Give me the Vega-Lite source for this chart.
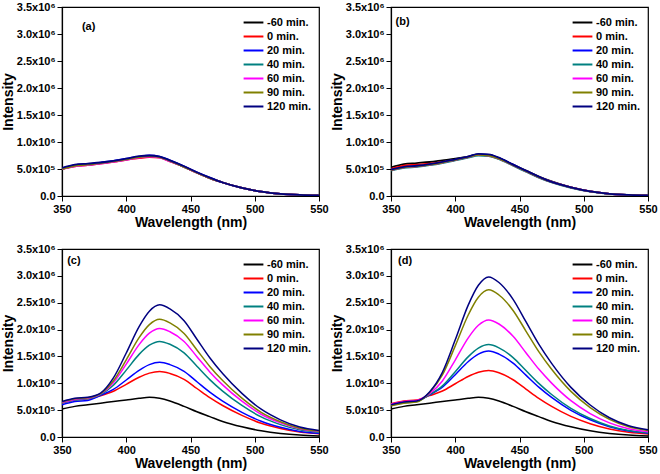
{
"$schema": "https://vega.github.io/schema/vega-lite/v6.json",
"padding": {"left": 0, "top": 0, "right": 0, "bottom": 2},
"config": {
  "font": "Liberation Sans",
  "axis": {"labelFont": "Liberation Sans", "labelFontWeight": "bold", "labelFontSize": 11, "labelColor": "#000", "titleFont": "Liberation Sans", "titleFontWeight": "bold", "titleFontSize": 14, "titleColor": "#000", "domainColor": "#000", "domainWidth": 1.2, "tickColor": "#000", "tickWidth": 1, "grid": false, "labelFlush": false, "labelPadding": 2, "labelOverlap": false},
  "axisY": {"titlePadding": 1},
  "axisX": {"titlePadding": 1},
  "view": {"stroke": "#000", "strokeWidth": 1.2},
  "legend": {"orient": "top-right", "offset": 7, "title": null, "symbolType": "M-1.4,0H1.4", "symbolSize": 200, "symbolStrokeWidth": 2, "labelFont": "Liberation Sans", "labelFontWeight": "bold", "labelFontSize": 11, "labelColor": "#000", "rowPadding": 0, "labelOffset": 5, "padding": 0}
},
"datasets": {
"a": [
{"s":"-60 min.","w":350,"v":0.50},{"s":"-60 min.","w":360,"v":0.56},{"s":"-60 min.","w":370,"v":0.58},{"s":"-60 min.","w":380,"v":0.61},{"s":"-60 min.","w":390,"v":0.64},{"s":"-60 min.","w":400,"v":0.68},{"s":"-60 min.","w":410,"v":0.72},{"s":"-60 min.","w":418,"v":0.74},{"s":"-60 min.","w":426,"v":0.72},{"s":"-60 min.","w":434,"v":0.65},{"s":"-60 min.","w":445,"v":0.54},{"s":"-60 min.","w":455,"v":0.43},{"s":"-60 min.","w":465,"v":0.33},{"s":"-60 min.","w":475,"v":0.25},{"s":"-60 min.","w":490,"v":0.15},{"s":"-60 min.","w":505,"v":0.08},{"s":"-60 min.","w":520,"v":0.04},{"s":"-60 min.","w":535,"v":0.02},{"s":"-60 min.","w":550,"v":0.01},
{"s":"0 min.","w":350,"v":0.50},{"s":"0 min.","w":360,"v":0.55},{"s":"0 min.","w":370,"v":0.57},{"s":"0 min.","w":380,"v":0.60},{"s":"0 min.","w":390,"v":0.63},{"s":"0 min.","w":400,"v":0.67},{"s":"0 min.","w":410,"v":0.70},{"s":"0 min.","w":418,"v":0.72},{"s":"0 min.","w":426,"v":0.71},{"s":"0 min.","w":434,"v":0.64},{"s":"0 min.","w":445,"v":0.54},{"s":"0 min.","w":455,"v":0.43},{"s":"0 min.","w":465,"v":0.33},{"s":"0 min.","w":475,"v":0.25},{"s":"0 min.","w":490,"v":0.15},{"s":"0 min.","w":505,"v":0.08},{"s":"0 min.","w":520,"v":0.04},{"s":"0 min.","w":535,"v":0.02},{"s":"0 min.","w":550,"v":0.01},
{"s":"20 min.","w":350,"v":0.51},{"s":"20 min.","w":360,"v":0.57},{"s":"20 min.","w":370,"v":0.59},{"s":"20 min.","w":380,"v":0.62},{"s":"20 min.","w":390,"v":0.65},{"s":"20 min.","w":400,"v":0.69},{"s":"20 min.","w":410,"v":0.73},{"s":"20 min.","w":418,"v":0.75},{"s":"20 min.","w":426,"v":0.73},{"s":"20 min.","w":434,"v":0.66},{"s":"20 min.","w":445,"v":0.55},{"s":"20 min.","w":455,"v":0.44},{"s":"20 min.","w":465,"v":0.34},{"s":"20 min.","w":475,"v":0.25},{"s":"20 min.","w":490,"v":0.15},{"s":"20 min.","w":505,"v":0.08},{"s":"20 min.","w":520,"v":0.04},{"s":"20 min.","w":535,"v":0.02},{"s":"20 min.","w":550,"v":0.01},
{"s":"40 min.","w":350,"v":0.50},{"s":"40 min.","w":360,"v":0.56},{"s":"40 min.","w":370,"v":0.58},{"s":"40 min.","w":380,"v":0.61},{"s":"40 min.","w":390,"v":0.64},{"s":"40 min.","w":400,"v":0.68},{"s":"40 min.","w":410,"v":0.72},{"s":"40 min.","w":418,"v":0.74},{"s":"40 min.","w":426,"v":0.72},{"s":"40 min.","w":434,"v":0.65},{"s":"40 min.","w":445,"v":0.54},{"s":"40 min.","w":455,"v":0.43},{"s":"40 min.","w":465,"v":0.33},{"s":"40 min.","w":475,"v":0.25},{"s":"40 min.","w":490,"v":0.15},{"s":"40 min.","w":505,"v":0.08},{"s":"40 min.","w":520,"v":0.04},{"s":"40 min.","w":535,"v":0.02},{"s":"40 min.","w":550,"v":0.01},
{"s":"60 min.","w":350,"v":0.50},{"s":"60 min.","w":360,"v":0.55},{"s":"60 min.","w":370,"v":0.57},{"s":"60 min.","w":380,"v":0.60},{"s":"60 min.","w":390,"v":0.63},{"s":"60 min.","w":400,"v":0.67},{"s":"60 min.","w":410,"v":0.71},{"s":"60 min.","w":418,"v":0.73},{"s":"60 min.","w":426,"v":0.71},{"s":"60 min.","w":434,"v":0.64},{"s":"60 min.","w":445,"v":0.54},{"s":"60 min.","w":455,"v":0.43},{"s":"60 min.","w":465,"v":0.33},{"s":"60 min.","w":475,"v":0.25},{"s":"60 min.","w":490,"v":0.15},{"s":"60 min.","w":505,"v":0.08},{"s":"60 min.","w":520,"v":0.04},{"s":"60 min.","w":535,"v":0.02},{"s":"60 min.","w":550,"v":0.01},
{"s":"90 min.","w":350,"v":0.50},{"s":"90 min.","w":360,"v":0.56},{"s":"90 min.","w":370,"v":0.58},{"s":"90 min.","w":380,"v":0.61},{"s":"90 min.","w":390,"v":0.64},{"s":"90 min.","w":400,"v":0.68},{"s":"90 min.","w":410,"v":0.72},{"s":"90 min.","w":418,"v":0.74},{"s":"90 min.","w":426,"v":0.72},{"s":"90 min.","w":434,"v":0.65},{"s":"90 min.","w":445,"v":0.54},{"s":"90 min.","w":455,"v":0.43},{"s":"90 min.","w":465,"v":0.33},{"s":"90 min.","w":475,"v":0.25},{"s":"90 min.","w":490,"v":0.15},{"s":"90 min.","w":505,"v":0.08},{"s":"90 min.","w":520,"v":0.04},{"s":"90 min.","w":535,"v":0.02},{"s":"90 min.","w":550,"v":0.01},
{"s":"120 min.","w":350,"v":0.52},{"s":"120 min.","w":360,"v":0.58},{"s":"120 min.","w":370,"v":0.60},{"s":"120 min.","w":380,"v":0.62},{"s":"120 min.","w":390,"v":0.65},{"s":"120 min.","w":400,"v":0.69},{"s":"120 min.","w":410,"v":0.74},{"s":"120 min.","w":418,"v":0.75},{"s":"120 min.","w":426,"v":0.73},{"s":"120 min.","w":434,"v":0.66},{"s":"120 min.","w":445,"v":0.55},{"s":"120 min.","w":455,"v":0.44},{"s":"120 min.","w":465,"v":0.34},{"s":"120 min.","w":475,"v":0.25},{"s":"120 min.","w":490,"v":0.15},{"s":"120 min.","w":505,"v":0.08},{"s":"120 min.","w":520,"v":0.04},{"s":"120 min.","w":535,"v":0.02},{"s":"120 min.","w":550,"v":0.01}
],
"b": [
{"s":"-60 min.","w":350,"v":0.53},{"s":"-60 min.","w":360,"v":0.59},{"s":"-60 min.","w":370,"v":0.61},{"s":"-60 min.","w":380,"v":0.63},{"s":"-60 min.","w":390,"v":0.66},{"s":"-60 min.","w":400,"v":0.69},{"s":"-60 min.","w":410,"v":0.73},{"s":"-60 min.","w":418,"v":0.77},{"s":"-60 min.","w":426,"v":0.76},{"s":"-60 min.","w":434,"v":0.70},{"s":"-60 min.","w":445,"v":0.58},{"s":"-60 min.","w":455,"v":0.47},{"s":"-60 min.","w":465,"v":0.36},{"s":"-60 min.","w":475,"v":0.27},{"s":"-60 min.","w":490,"v":0.16},{"s":"-60 min.","w":505,"v":0.085},{"s":"-60 min.","w":520,"v":0.04},{"s":"-60 min.","w":535,"v":0.02},{"s":"-60 min.","w":550,"v":0.01},
{"s":"0 min.","w":350,"v":0.50},{"s":"0 min.","w":360,"v":0.56},{"s":"0 min.","w":370,"v":0.58},{"s":"0 min.","w":380,"v":0.60},{"s":"0 min.","w":390,"v":0.63},{"s":"0 min.","w":400,"v":0.67},{"s":"0 min.","w":410,"v":0.72},{"s":"0 min.","w":418,"v":0.76},{"s":"0 min.","w":426,"v":0.75},{"s":"0 min.","w":434,"v":0.69},{"s":"0 min.","w":445,"v":0.57},{"s":"0 min.","w":455,"v":0.46},{"s":"0 min.","w":465,"v":0.35},{"s":"0 min.","w":475,"v":0.26},{"s":"0 min.","w":490,"v":0.16},{"s":"0 min.","w":505,"v":0.085},{"s":"0 min.","w":520,"v":0.04},{"s":"0 min.","w":535,"v":0.02},{"s":"0 min.","w":550,"v":0.01},
{"s":"20 min.","w":350,"v":0.48},{"s":"20 min.","w":360,"v":0.53},{"s":"20 min.","w":370,"v":0.55},{"s":"20 min.","w":380,"v":0.58},{"s":"20 min.","w":390,"v":0.62},{"s":"20 min.","w":400,"v":0.67},{"s":"20 min.","w":410,"v":0.72},{"s":"20 min.","w":418,"v":0.77},{"s":"20 min.","w":426,"v":0.76},{"s":"20 min.","w":434,"v":0.70},{"s":"20 min.","w":445,"v":0.58},{"s":"20 min.","w":455,"v":0.46},{"s":"20 min.","w":465,"v":0.35},{"s":"20 min.","w":475,"v":0.26},{"s":"20 min.","w":490,"v":0.16},{"s":"20 min.","w":505,"v":0.085},{"s":"20 min.","w":520,"v":0.04},{"s":"20 min.","w":535,"v":0.02},{"s":"20 min.","w":550,"v":0.01},
{"s":"40 min.","w":350,"v":0.47},{"s":"40 min.","w":360,"v":0.52},{"s":"40 min.","w":370,"v":0.54},{"s":"40 min.","w":380,"v":0.57},{"s":"40 min.","w":390,"v":0.61},{"s":"40 min.","w":400,"v":0.66},{"s":"40 min.","w":410,"v":0.71},{"s":"40 min.","w":418,"v":0.75},{"s":"40 min.","w":426,"v":0.74},{"s":"40 min.","w":434,"v":0.68},{"s":"40 min.","w":445,"v":0.56},{"s":"40 min.","w":455,"v":0.45},{"s":"40 min.","w":465,"v":0.34},{"s":"40 min.","w":475,"v":0.25},{"s":"40 min.","w":490,"v":0.15},{"s":"40 min.","w":505,"v":0.08},{"s":"40 min.","w":520,"v":0.04},{"s":"40 min.","w":535,"v":0.02},{"s":"40 min.","w":550,"v":0.01},
{"s":"60 min.","w":350,"v":0.48},{"s":"60 min.","w":360,"v":0.53},{"s":"60 min.","w":370,"v":0.55},{"s":"60 min.","w":380,"v":0.58},{"s":"60 min.","w":390,"v":0.62},{"s":"60 min.","w":400,"v":0.67},{"s":"60 min.","w":410,"v":0.72},{"s":"60 min.","w":418,"v":0.76},{"s":"60 min.","w":426,"v":0.75},{"s":"60 min.","w":434,"v":0.69},{"s":"60 min.","w":445,"v":0.57},{"s":"60 min.","w":455,"v":0.46},{"s":"60 min.","w":465,"v":0.35},{"s":"60 min.","w":475,"v":0.26},{"s":"60 min.","w":490,"v":0.16},{"s":"60 min.","w":505,"v":0.085},{"s":"60 min.","w":520,"v":0.04},{"s":"60 min.","w":535,"v":0.02},{"s":"60 min.","w":550,"v":0.01},
{"s":"90 min.","w":350,"v":0.48},{"s":"90 min.","w":360,"v":0.53},{"s":"90 min.","w":370,"v":0.55},{"s":"90 min.","w":380,"v":0.58},{"s":"90 min.","w":390,"v":0.62},{"s":"90 min.","w":400,"v":0.67},{"s":"90 min.","w":410,"v":0.72},{"s":"90 min.","w":418,"v":0.76},{"s":"90 min.","w":426,"v":0.75},{"s":"90 min.","w":434,"v":0.69},{"s":"90 min.","w":445,"v":0.57},{"s":"90 min.","w":455,"v":0.46},{"s":"90 min.","w":465,"v":0.35},{"s":"90 min.","w":475,"v":0.26},{"s":"90 min.","w":490,"v":0.16},{"s":"90 min.","w":505,"v":0.085},{"s":"90 min.","w":520,"v":0.04},{"s":"90 min.","w":535,"v":0.02},{"s":"90 min.","w":550,"v":0.01},
{"s":"120 min.","w":350,"v":0.49},{"s":"120 min.","w":360,"v":0.54},{"s":"120 min.","w":370,"v":0.56},{"s":"120 min.","w":380,"v":0.59},{"s":"120 min.","w":390,"v":0.63},{"s":"120 min.","w":400,"v":0.68},{"s":"120 min.","w":410,"v":0.73},{"s":"120 min.","w":418,"v":0.78},{"s":"120 min.","w":426,"v":0.77},{"s":"120 min.","w":434,"v":0.71},{"s":"120 min.","w":445,"v":0.58},{"s":"120 min.","w":455,"v":0.47},{"s":"120 min.","w":465,"v":0.36},{"s":"120 min.","w":475,"v":0.26},{"s":"120 min.","w":490,"v":0.16},{"s":"120 min.","w":505,"v":0.085},{"s":"120 min.","w":520,"v":0.04},{"s":"120 min.","w":535,"v":0.02},{"s":"120 min.","w":550,"v":0.01}
],
"c": [
{"s":"-60 min.","w":350,"v":0.52},{"s":"-60 min.","w":360,"v":0.57},{"s":"-60 min.","w":370,"v":0.60},{"s":"-60 min.","w":380,"v":0.63},{"s":"-60 min.","w":390,"v":0.66},{"s":"-60 min.","w":400,"v":0.69},{"s":"-60 min.","w":410,"v":0.72},{"s":"-60 min.","w":418,"v":0.74},{"s":"-60 min.","w":426,"v":0.72},{"s":"-60 min.","w":434,"v":0.67},{"s":"-60 min.","w":445,"v":0.57},{"s":"-60 min.","w":455,"v":0.47},{"s":"-60 min.","w":465,"v":0.38},{"s":"-60 min.","w":475,"v":0.29},{"s":"-60 min.","w":490,"v":0.19},{"s":"-60 min.","w":505,"v":0.115},{"s":"-60 min.","w":520,"v":0.065},{"s":"-60 min.","w":535,"v":0.035},{"s":"-60 min.","w":550,"v":0.02},
{"s":"0 min.","w":350,"v":0.63},{"s":"0 min.","w":360,"v":0.69},{"s":"0 min.","w":370,"v":0.71},{"s":"0 min.","w":380,"v":0.769},{"s":"0 min.","w":390,"v":0.852},{"s":"0 min.","w":400,"v":0.981},{"s":"0 min.","w":410,"v":1.112},{"s":"0 min.","w":418,"v":1.189},{"s":"0 min.","w":426,"v":1.22},{"s":"0 min.","w":434,"v":1.183},{"s":"0 min.","w":445,"v":1.074},{"s":"0 min.","w":455,"v":0.903},{"s":"0 min.","w":465,"v":0.732},{"s":"0 min.","w":475,"v":0.586},{"s":"0 min.","w":490,"v":0.403},{"s":"0 min.","w":505,"v":0.256},{"s":"0 min.","w":520,"v":0.159},{"s":"0 min.","w":535,"v":0.092},{"s":"0 min.","w":550,"v":0.061},
{"s":"20 min.","w":350,"v":0.60},{"s":"20 min.","w":360,"v":0.66},{"s":"20 min.","w":370,"v":0.68},{"s":"20 min.","w":380,"v":0.776},{"s":"20 min.","w":390,"v":0.886},{"s":"20 min.","w":400,"v":1.061},{"s":"20 min.","w":410,"v":1.241},{"s":"20 min.","w":418,"v":1.347},{"s":"20 min.","w":426,"v":1.39},{"s":"20 min.","w":434,"v":1.348},{"s":"20 min.","w":445,"v":1.223},{"s":"20 min.","w":455,"v":1.029},{"s":"20 min.","w":465,"v":0.834},{"s":"20 min.","w":475,"v":0.667},{"s":"20 min.","w":490,"v":0.459},{"s":"20 min.","w":505,"v":0.292},{"s":"20 min.","w":520,"v":0.181},{"s":"20 min.","w":535,"v":0.104},{"s":"20 min.","w":550,"v":0.07},
{"s":"40 min.","w":350,"v":0.63},{"s":"40 min.","w":360,"v":0.69},{"s":"40 min.","w":370,"v":0.71},{"s":"40 min.","w":380,"v":0.791},{"s":"40 min.","w":390,"v":0.964},{"s":"40 min.","w":400,"v":1.245},{"s":"40 min.","w":410,"v":1.538},{"s":"40 min.","w":418,"v":1.709},{"s":"40 min.","w":426,"v":1.78},{"s":"40 min.","w":434,"v":1.727},{"s":"40 min.","w":445,"v":1.566},{"s":"40 min.","w":455,"v":1.317},{"s":"40 min.","w":465,"v":1.068},{"s":"40 min.","w":475,"v":0.854},{"s":"40 min.","w":490,"v":0.587},{"s":"40 min.","w":505,"v":0.374},{"s":"40 min.","w":520,"v":0.231},{"s":"40 min.","w":535,"v":0.134},{"s":"40 min.","w":550,"v":0.089},
{"s":"60 min.","w":350,"v":0.64},{"s":"60 min.","w":360,"v":0.70},{"s":"60 min.","w":370,"v":0.72},{"s":"60 min.","w":380,"v":0.801},{"s":"60 min.","w":390,"v":1.012},{"s":"60 min.","w":400,"v":1.357},{"s":"60 min.","w":410,"v":1.72},{"s":"60 min.","w":418,"v":1.933},{"s":"60 min.","w":426,"v":2.02},{"s":"60 min.","w":434,"v":1.959},{"s":"60 min.","w":445,"v":1.778},{"s":"60 min.","w":455,"v":1.495},{"s":"60 min.","w":465,"v":1.212},{"s":"60 min.","w":475,"v":0.97},{"s":"60 min.","w":490,"v":0.667},{"s":"60 min.","w":505,"v":0.424},{"s":"60 min.","w":520,"v":0.263},{"s":"60 min.","w":535,"v":0.152},{"s":"60 min.","w":550,"v":0.101},
{"s":"90 min.","w":350,"v":0.65},{"s":"90 min.","w":360,"v":0.71},{"s":"90 min.","w":370,"v":0.73},{"s":"90 min.","w":380,"v":0.808},{"s":"90 min.","w":390,"v":1.046},{"s":"90 min.","w":400,"v":1.437},{"s":"90 min.","w":410,"v":1.849},{"s":"90 min.","w":418,"v":2.091},{"s":"90 min.","w":426,"v":2.19},{"s":"90 min.","w":434,"v":2.124},{"s":"90 min.","w":445,"v":1.927},{"s":"90 min.","w":455,"v":1.621},{"s":"90 min.","w":465,"v":1.314},{"s":"90 min.","w":475,"v":1.051},{"s":"90 min.","w":490,"v":0.723},{"s":"90 min.","w":505,"v":0.46},{"s":"90 min.","w":520,"v":0.285},{"s":"90 min.","w":535,"v":0.164},{"s":"90 min.","w":550,"v":0.11},
{"s":"120 min.","w":350,"v":0.66},{"s":"120 min.","w":360,"v":0.72},{"s":"120 min.","w":370,"v":0.74},{"s":"120 min.","w":380,"v":0.818},{"s":"120 min.","w":390,"v":1.10},{"s":"120 min.","w":400,"v":1.564},{"s":"120 min.","w":410,"v":2.055},{"s":"120 min.","w":418,"v":2.342},{"s":"120 min.","w":426,"v":2.46},{"s":"120 min.","w":434,"v":2.386},{"s":"120 min.","w":445,"v":2.165},{"s":"120 min.","w":455,"v":1.82},{"s":"120 min.","w":465,"v":1.476},{"s":"120 min.","w":475,"v":1.181},{"s":"120 min.","w":490,"v":0.812},{"s":"120 min.","w":505,"v":0.517},{"s":"120 min.","w":520,"v":0.32},{"s":"120 min.","w":535,"v":0.185},{"s":"120 min.","w":550,"v":0.123}
],
"d": [
{"s":"-60 min.","w":350,"v":0.52},{"s":"-60 min.","w":360,"v":0.57},{"s":"-60 min.","w":370,"v":0.60},{"s":"-60 min.","w":380,"v":0.63},{"s":"-60 min.","w":390,"v":0.66},{"s":"-60 min.","w":400,"v":0.69},{"s":"-60 min.","w":410,"v":0.72},{"s":"-60 min.","w":418,"v":0.74},{"s":"-60 min.","w":426,"v":0.72},{"s":"-60 min.","w":434,"v":0.67},{"s":"-60 min.","w":445,"v":0.57},{"s":"-60 min.","w":455,"v":0.47},{"s":"-60 min.","w":465,"v":0.38},{"s":"-60 min.","w":475,"v":0.29},{"s":"-60 min.","w":490,"v":0.19},{"s":"-60 min.","w":505,"v":0.115},{"s":"-60 min.","w":520,"v":0.065},{"s":"-60 min.","w":535,"v":0.035},{"s":"-60 min.","w":550,"v":0.02},
{"s":"0 min.","w":350,"v":0.62},{"s":"0 min.","w":360,"v":0.67},{"s":"0 min.","w":370,"v":0.69},{"s":"0 min.","w":380,"v":0.77},{"s":"0 min.","w":390,"v":0.856},{"s":"0 min.","w":400,"v":0.991},{"s":"0 min.","w":410,"v":1.127},{"s":"0 min.","w":418,"v":1.207},{"s":"0 min.","w":426,"v":1.24},{"s":"0 min.","w":434,"v":1.197},{"s":"0 min.","w":445,"v":1.066},{"s":"0 min.","w":455,"v":0.893},{"s":"0 min.","w":465,"v":0.719},{"s":"0 min.","w":475,"v":0.57},{"s":"0 min.","w":490,"v":0.384},{"s":"0 min.","w":505,"v":0.248},{"s":"0 min.","w":520,"v":0.149},{"s":"0 min.","w":535,"v":0.087},{"s":"0 min.","w":550,"v":0.056},
{"s":"20 min.","w":350,"v":0.60},{"s":"20 min.","w":360,"v":0.65},{"s":"20 min.","w":370,"v":0.67},{"s":"20 min.","w":380,"v":0.784},{"s":"20 min.","w":390,"v":0.928},{"s":"20 min.","w":400,"v":1.16},{"s":"20 min.","w":410,"v":1.401},{"s":"20 min.","w":418,"v":1.542},{"s":"20 min.","w":426,"v":1.60},{"s":"20 min.","w":434,"v":1.544},{"s":"20 min.","w":445,"v":1.376},{"s":"20 min.","w":455,"v":1.152},{"s":"20 min.","w":465,"v":0.928},{"s":"20 min.","w":475,"v":0.736},{"s":"20 min.","w":490,"v":0.496},{"s":"20 min.","w":505,"v":0.32},{"s":"20 min.","w":520,"v":0.192},{"s":"20 min.","w":535,"v":0.112},{"s":"20 min.","w":550,"v":0.072},
{"s":"40 min.","w":350,"v":0.59},{"s":"40 min.","w":360,"v":0.64},{"s":"40 min.","w":370,"v":0.66},{"s":"40 min.","w":380,"v":0.789},{"s":"40 min.","w":390,"v":0.952},{"s":"40 min.","w":400,"v":1.216},{"s":"40 min.","w":410,"v":1.492},{"s":"40 min.","w":418,"v":1.654},{"s":"40 min.","w":426,"v":1.72},{"s":"40 min.","w":434,"v":1.66},{"s":"40 min.","w":445,"v":1.479},{"s":"40 min.","w":455,"v":1.238},{"s":"40 min.","w":465,"v":0.998},{"s":"40 min.","w":475,"v":0.791},{"s":"40 min.","w":490,"v":0.533},{"s":"40 min.","w":505,"v":0.344},{"s":"40 min.","w":520,"v":0.206},{"s":"40 min.","w":535,"v":0.12},{"s":"40 min.","w":550,"v":0.077},
{"s":"60 min.","w":350,"v":0.61},{"s":"60 min.","w":360,"v":0.66},{"s":"60 min.","w":370,"v":0.68},{"s":"60 min.","w":380,"v":0.807},{"s":"60 min.","w":390,"v":1.044},{"s":"60 min.","w":400,"v":1.433},{"s":"60 min.","w":410,"v":1.842},{"s":"60 min.","w":418,"v":2.081},{"s":"60 min.","w":426,"v":2.18},{"s":"60 min.","w":434,"v":2.104},{"s":"60 min.","w":445,"v":1.875},{"s":"60 min.","w":455,"v":1.57},{"s":"60 min.","w":465,"v":1.264},{"s":"60 min.","w":475,"v":1.003},{"s":"60 min.","w":490,"v":0.676},{"s":"60 min.","w":505,"v":0.436},{"s":"60 min.","w":520,"v":0.262},{"s":"60 min.","w":535,"v":0.153},{"s":"60 min.","w":550,"v":0.098},
{"s":"90 min.","w":350,"v":0.58},{"s":"90 min.","w":360,"v":0.63},{"s":"90 min.","w":370,"v":0.65},{"s":"90 min.","w":380,"v":0.83},{"s":"90 min.","w":390,"v":1.156},{"s":"90 min.","w":400,"v":1.696},{"s":"90 min.","w":410,"v":2.267},{"s":"90 min.","w":418,"v":2.602},{"s":"90 min.","w":426,"v":2.74},{"s":"90 min.","w":434,"v":2.644},{"s":"90 min.","w":445,"v":2.356},{"s":"90 min.","w":455,"v":1.973},{"s":"90 min.","w":465,"v":1.589},{"s":"90 min.","w":475,"v":1.26},{"s":"90 min.","w":490,"v":0.849},{"s":"90 min.","w":505,"v":0.548},{"s":"90 min.","w":520,"v":0.329},{"s":"90 min.","w":535,"v":0.192},{"s":"90 min.","w":550,"v":0.123},
{"s":"120 min.","w":350,"v":0.60},{"s":"120 min.","w":360,"v":0.65},{"s":"120 min.","w":370,"v":0.67},{"s":"120 min.","w":380,"v":0.839},{"s":"120 min.","w":390,"v":1.204},{"s":"120 min.","w":400,"v":1.809},{"s":"120 min.","w":410,"v":2.45},{"s":"120 min.","w":418,"v":2.825},{"s":"120 min.","w":426,"v":2.98},{"s":"120 min.","w":434,"v":2.876},{"s":"120 min.","w":445,"v":2.563},{"s":"120 min.","w":455,"v":2.146},{"s":"120 min.","w":465,"v":1.728},{"s":"120 min.","w":475,"v":1.371},{"s":"120 min.","w":490,"v":0.924},{"s":"120 min.","w":505,"v":0.596},{"s":"120 min.","w":520,"v":0.358},{"s":"120 min.","w":535,"v":0.209},{"s":"120 min.","w":550,"v":0.134}
]
},
"resolve": {"scale": {"color": "independent"}, "legend": {"color": "independent"}},
"spacing": 12,
"vconcat": [
{"hconcat": [
 {"width": 257, "height": 189, "layer": [
  {"data": {"name": "a"}, "mark": {"type": "line", "strokeWidth": 1.8, "interpolate": "monotone", "clip": true},
   "encoding": {
    "x": {"field": "w", "type": "quantitative", "scale": {"domain": [350, 550], "nice": false}, "axis": {"title": "Wavelength (nm)", "labelOverlap": false, "tickCount": 8, "values": [350,375,400,425,450,475,500,525,550], "labelExpr": "datum.value % 50 == 0 ? datum.label : ''", "tickSize": {"condition": {"test": "datum.value % 50 != 0", "value": 3}, "value": 5}}},
    "y": {"field": "v", "type": "quantitative", "scale": {"domain": [0, 3.5], "nice": false}, "axis": {"title": "Intensity", "labelOverlap": false, "tickCount": 14, "values": [0,0.25,0.5,0.75,1,1.25,1.5,1.75,2,2.25,2.5,2.75,3,3.25,3.5], "labelExpr": "(datum.value*2) % 1 != 0 ? '' : (datum.value == 0 ? '0.0' : (datum.value < 1 ? format(datum.value*10, '.1f') + 'x10⁵' : format(datum.value, '.1f') + 'x10⁶'))", "tickSize": {"condition": {"test": "(datum.value*2) % 1 != 0", "value": 3}, "value": 5}}},
    "color": {"field": "s", "type": "nominal", "sort": null, "scale": {"domain": ["-60 min.","0 min.","20 min.","40 min.","60 min.","90 min.","120 min."], "range": ["#000000","#ff0000","#0000ff","#008080","#ff00ff","#808000","#000080"]}, "legend": {}}
   }},
  {"data": {"values": [{"t": "(a)"}]}, "mark": {"type": "text", "fontWeight": "bold", "fontSize": 11, "align": "left", "font": "Liberation Sans"}, "encoding": {
    "x": {"datum": 365.5, "type": "quantitative", "scale": {"domain": [350, 550], "nice": false}, "axis": {"title": "Wavelength (nm)", "labelOverlap": false, "tickCount": 8, "values": [350,375,400,425,450,475,500,525,550], "labelExpr": "datum.value % 50 == 0 ? datum.label : ''", "tickSize": {"condition": {"test": "datum.value % 50 != 0", "value": 3}, "value": 5}}},
    "y": {"datum": 3.13, "type": "quantitative", "scale": {"domain": [0, 3.5], "nice": false}, "axis": {"title": "Intensity", "labelOverlap": false, "tickCount": 14, "values": [0,0.25,0.5,0.75,1,1.25,1.5,1.75,2,2.25,2.5,2.75,3,3.25,3.5], "labelExpr": "(datum.value*2) % 1 != 0 ? '' : (datum.value == 0 ? '0.0' : (datum.value < 1 ? format(datum.value*10, '.1f') + 'x10⁵' : format(datum.value, '.1f') + 'x10⁶'))", "tickSize": {"condition": {"test": "(datum.value*2) % 1 != 0", "value": 3}, "value": 5}}},
    "text": {"field": "t"}}}
 ]},
 {"width": 257, "height": 189, "layer": [
  {"data": {"name": "b"}, "mark": {"type": "line", "strokeWidth": 1.8, "interpolate": "monotone", "clip": true},
   "encoding": {
    "x": {"field": "w", "type": "quantitative", "scale": {"domain": [350, 550], "nice": false}, "axis": {"title": "Wavelength (nm)", "labelOverlap": false, "tickCount": 8, "values": [350,375,400,425,450,475,500,525,550], "labelExpr": "datum.value % 50 == 0 ? datum.label : ''", "tickSize": {"condition": {"test": "datum.value % 50 != 0", "value": 3}, "value": 5}}},
    "y": {"field": "v", "type": "quantitative", "scale": {"domain": [0, 3.5], "nice": false}, "axis": {"title": "Intensity", "labelOverlap": false, "tickCount": 14, "values": [0,0.25,0.5,0.75,1,1.25,1.5,1.75,2,2.25,2.5,2.75,3,3.25,3.5], "labelExpr": "(datum.value*2) % 1 != 0 ? '' : (datum.value == 0 ? '0.0' : (datum.value < 1 ? format(datum.value*10, '.1f') + 'x10⁵' : format(datum.value, '.1f') + 'x10⁶'))", "tickSize": {"condition": {"test": "(datum.value*2) % 1 != 0", "value": 3}, "value": 5}}},
    "color": {"field": "s", "type": "nominal", "sort": null, "scale": {"domain": ["-60 min.","0 min.","20 min.","40 min.","60 min.","90 min.","120 min."], "range": ["#000000","#ff0000","#0000ff","#008080","#ff00ff","#808000","#000080"]}, "legend": {}}
   }},
  {"data": {"values": [{"t": "(b)"}]}, "mark": {"type": "text", "fontWeight": "bold", "fontSize": 11, "align": "left", "font": "Liberation Sans"}, "encoding": {
    "x": {"datum": 353.5, "type": "quantitative", "scale": {"domain": [350, 550], "nice": false}, "axis": {"title": "Wavelength (nm)", "labelOverlap": false, "tickCount": 8, "values": [350,375,400,425,450,475,500,525,550], "labelExpr": "datum.value % 50 == 0 ? datum.label : ''", "tickSize": {"condition": {"test": "datum.value % 50 != 0", "value": 3}, "value": 5}}},
    "y": {"datum": 3.22, "type": "quantitative", "scale": {"domain": [0, 3.5], "nice": false}, "axis": {"title": "Intensity", "labelOverlap": false, "tickCount": 14, "values": [0,0.25,0.5,0.75,1,1.25,1.5,1.75,2,2.25,2.5,2.75,3,3.25,3.5], "labelExpr": "(datum.value*2) % 1 != 0 ? '' : (datum.value == 0 ? '0.0' : (datum.value < 1 ? format(datum.value*10, '.1f') + 'x10⁵' : format(datum.value, '.1f') + 'x10⁶'))", "tickSize": {"condition": {"test": "(datum.value*2) % 1 != 0", "value": 3}, "value": 5}}},
    "text": {"field": "t"}}}
 ]}
], "spacing": 0, "resolve": {"scale": {"color": "independent"}, "legend": {"color": "independent"}}},
{"hconcat": [
 {"width": 257, "height": 188, "layer": [
  {"data": {"name": "c"}, "mark": {"type": "line", "strokeWidth": 1.5, "interpolate": "monotone", "clip": true},
   "encoding": {
    "x": {"field": "w", "type": "quantitative", "scale": {"domain": [350, 550], "nice": false}, "axis": {"title": "Wavelength (nm)", "labelOverlap": false, "tickCount": 8, "values": [350,375,400,425,450,475,500,525,550], "labelExpr": "datum.value % 50 == 0 ? datum.label : ''", "tickSize": {"condition": {"test": "datum.value % 50 != 0", "value": 3}, "value": 5}}},
    "y": {"field": "v", "type": "quantitative", "scale": {"domain": [0, 3.5], "nice": false}, "axis": {"title": "Intensity", "labelOverlap": false, "tickCount": 14, "values": [0,0.25,0.5,0.75,1,1.25,1.5,1.75,2,2.25,2.5,2.75,3,3.25,3.5], "labelExpr": "(datum.value*2) % 1 != 0 ? '' : (datum.value == 0 ? '0.0' : (datum.value < 1 ? format(datum.value*10, '.1f') + 'x10⁵' : format(datum.value, '.1f') + 'x10⁶'))", "tickSize": {"condition": {"test": "(datum.value*2) % 1 != 0", "value": 3}, "value": 5}}},
    "color": {"field": "s", "type": "nominal", "sort": null, "scale": {"domain": ["-60 min.","0 min.","20 min.","40 min.","60 min.","90 min.","120 min."], "range": ["#000000","#ff0000","#0000ff","#008080","#ff00ff","#808000","#000080"]}, "legend": {}}
   }},
  {"data": {"values": [{"t": "(c)"}]}, "mark": {"type": "text", "fontWeight": "bold", "fontSize": 11, "align": "left", "font": "Liberation Sans"}, "encoding": {
    "x": {"datum": 354, "type": "quantitative", "scale": {"domain": [350, 550], "nice": false}, "axis": {"title": "Wavelength (nm)", "labelOverlap": false, "tickCount": 8, "values": [350,375,400,425,450,475,500,525,550], "labelExpr": "datum.value % 50 == 0 ? datum.label : ''", "tickSize": {"condition": {"test": "datum.value % 50 != 0", "value": 3}, "value": 5}}},
    "y": {"datum": 3.27, "type": "quantitative", "scale": {"domain": [0, 3.5], "nice": false}, "axis": {"title": "Intensity", "labelOverlap": false, "tickCount": 14, "values": [0,0.25,0.5,0.75,1,1.25,1.5,1.75,2,2.25,2.5,2.75,3,3.25,3.5], "labelExpr": "(datum.value*2) % 1 != 0 ? '' : (datum.value == 0 ? '0.0' : (datum.value < 1 ? format(datum.value*10, '.1f') + 'x10⁵' : format(datum.value, '.1f') + 'x10⁶'))", "tickSize": {"condition": {"test": "(datum.value*2) % 1 != 0", "value": 3}, "value": 5}}},
    "text": {"field": "t"}}}
 ]},
 {"width": 257, "height": 188, "layer": [
  {"data": {"name": "d"}, "mark": {"type": "line", "strokeWidth": 1.5, "interpolate": "monotone", "clip": true},
   "encoding": {
    "x": {"field": "w", "type": "quantitative", "scale": {"domain": [350, 550], "nice": false}, "axis": {"title": "Wavelength (nm)", "labelOverlap": false, "tickCount": 8, "values": [350,375,400,425,450,475,500,525,550], "labelExpr": "datum.value % 50 == 0 ? datum.label : ''", "tickSize": {"condition": {"test": "datum.value % 50 != 0", "value": 3}, "value": 5}}},
    "y": {"field": "v", "type": "quantitative", "scale": {"domain": [0, 3.5], "nice": false}, "axis": {"title": "Intensity", "labelOverlap": false, "tickCount": 14, "values": [0,0.25,0.5,0.75,1,1.25,1.5,1.75,2,2.25,2.5,2.75,3,3.25,3.5], "labelExpr": "(datum.value*2) % 1 != 0 ? '' : (datum.value == 0 ? '0.0' : (datum.value < 1 ? format(datum.value*10, '.1f') + 'x10⁵' : format(datum.value, '.1f') + 'x10⁶'))", "tickSize": {"condition": {"test": "(datum.value*2) % 1 != 0", "value": 3}, "value": 5}}},
    "color": {"field": "s", "type": "nominal", "sort": null, "scale": {"domain": ["-60 min.","0 min.","20 min.","40 min.","60 min.","90 min.","120 min."], "range": ["#000000","#ff0000","#0000ff","#008080","#ff00ff","#808000","#000080"]}, "legend": {}}
   }},
  {"data": {"values": [{"t": "(d)"}]}, "mark": {"type": "text", "fontWeight": "bold", "fontSize": 11, "align": "left", "font": "Liberation Sans"}, "encoding": {
    "x": {"datum": 355.5, "type": "quantitative", "scale": {"domain": [350, 550], "nice": false}, "axis": {"title": "Wavelength (nm)", "labelOverlap": false, "tickCount": 8, "values": [350,375,400,425,450,475,500,525,550], "labelExpr": "datum.value % 50 == 0 ? datum.label : ''", "tickSize": {"condition": {"test": "datum.value % 50 != 0", "value": 3}, "value": 5}}},
    "y": {"datum": 3.27, "type": "quantitative", "scale": {"domain": [0, 3.5], "nice": false}, "axis": {"title": "Intensity", "labelOverlap": false, "tickCount": 14, "values": [0,0.25,0.5,0.75,1,1.25,1.5,1.75,2,2.25,2.5,2.75,3,3.25,3.5], "labelExpr": "(datum.value*2) % 1 != 0 ? '' : (datum.value == 0 ? '0.0' : (datum.value < 1 ? format(datum.value*10, '.1f') + 'x10⁵' : format(datum.value, '.1f') + 'x10⁶'))", "tickSize": {"condition": {"test": "(datum.value*2) % 1 != 0", "value": 3}, "value": 5}}},
    "text": {"field": "t"}}}
 ]}
], "spacing": 0, "resolve": {"scale": {"color": "independent"}, "legend": {"color": "independent"}}}
]
}
